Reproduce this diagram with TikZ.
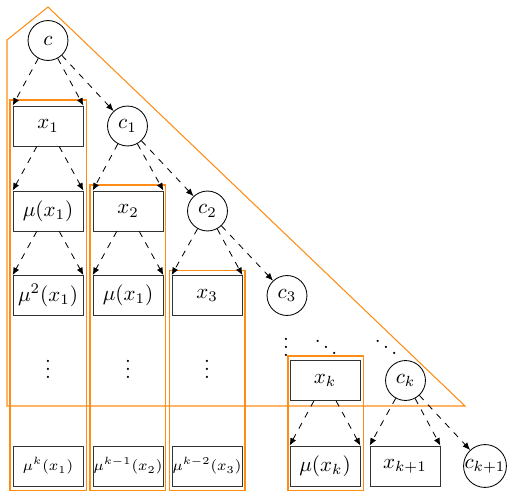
\documentclass[tikz,border=0pt]{standalone}
\usetikzlibrary{arrows.meta}
\definecolor{hl}{RGB}{255,140,20}
\begin{document}
\begin{tikzpicture}[x=0.476pt,y=-0.476pt,
  box/.style={draw=black!80,rectangle,minimum width=33.3pt,minimum height=19pt,inner sep=0pt},
  smallbox/.style={box,font=\scriptsize},
  circ/.style={draw,circle,minimum size=19pt,inner sep=0pt},
  dotsnode/.style={inner sep=0pt},
  arr/.style={dashed,-{Latex[length=3.6pt,width=3pt]}},
  hlline/.style={draw=hl,line width=0.5pt}]
\useasboundingbox (0,0) rectangle (512,498);
% orange groupings
\draw[hlline] (7,40) -- (48,7) -- (465,406) -- (7,406) -- cycle;
\draw[hlline] (10,100) rectangle (86.5,490.5);
\draw[hlline] (90,185) rectangle (165.5,490.5);
\draw[hlline] (169.5,270.5) rectangle (245,490.5);
\draw[hlline] (288,356) rectangle (363.5,490.5);
% nodes
\node[circ] (c) at (48,40.5) {$c$};
\node[box] (x1) at (48,126) {$x_1$};
\node[circ] (c1) at (127.5,126) {$c_1$};
\node[box] (mu1) at (48,211) {$\mu(x_1)$};
\node[box] (x2) at (128,211) {$x_2$};
\node[circ] (c2) at (207.5,211) {$c_2$};
\node[box] (mu2) at (48,295.5) {$\mu^2(x_1)$};
\node[box] (mub) at (128,295.5) {$\mu(x_1)$};
\node[box] (x3) at (207,295.5) {$x_3$};
\node[circ] (c3) at (287,295.5) {$c_3$};
\node[dotsnode] (v1) at (48,363) {$\vdots$};
\node[dotsnode] (v2) at (128,363) {$\vdots$};
\node[dotsnode] (v3) at (207,363) {$\vdots$};
\node[dotsnode] (v4) at (286,341) {$\vdots$};
\node[dotsnode] (d1) at (326,341) {$\ddots$};
\node[dotsnode] (d2) at (386,341) {$\ddots$};
\node[box] (xk) at (325,380.5) {$x_k$};
\node[circ] (ck) at (405.5,380.5) {$c_k$};
\node[smallbox] (mk1) at (48,466) {$\mu^k(x_1)$};
\node[smallbox] (mk2) at (128,466) {$\mu^{k-1}(x_2)$};
\node[smallbox] (mk3) at (207,466) {$\mu^{k-2}(x_3)$};
\node[box] (muxk) at (325,466) {$\mu(x_k)$};
\node[box] (xk1) at (405,466) {$x_{k+1}$};
\node[circ] (ck1) at (485,466) {$c_{k+1}$};
% connectors
\draw[arr] (c) -- (x1.north west);
\draw[arr] (c) -- (x1.north east);
\draw[arr] (c) -- (c1);
\draw[arr] (x1) -- (mu1.north west);
\draw[arr] (x1) -- (mu1.north east);
\draw[arr] (c1) -- (x2.north west);
\draw[arr] (c1) -- (x2.north east);
\draw[arr] (c1) -- (c2);
\draw[arr] (mu1) -- (mu2.north west);
\draw[arr] (mu1) -- (mu2.north east);
\draw[arr] (x2) -- (mub.north west);
\draw[arr] (x2) -- (mub.north east);
\draw[arr] (c2) -- (x3.north west);
\draw[arr] (c2) -- (x3.north east);
\draw[arr] (c2) -- (c3);
\draw[arr] (xk) -- (muxk.north west);
\draw[arr] (xk) -- (muxk.north east);
\draw[arr] (ck) -- (xk1.north west);
\draw[arr] (ck) -- (xk1.north east);
\draw[arr] (ck) -- (ck1);
\end{tikzpicture}
\end{document}
